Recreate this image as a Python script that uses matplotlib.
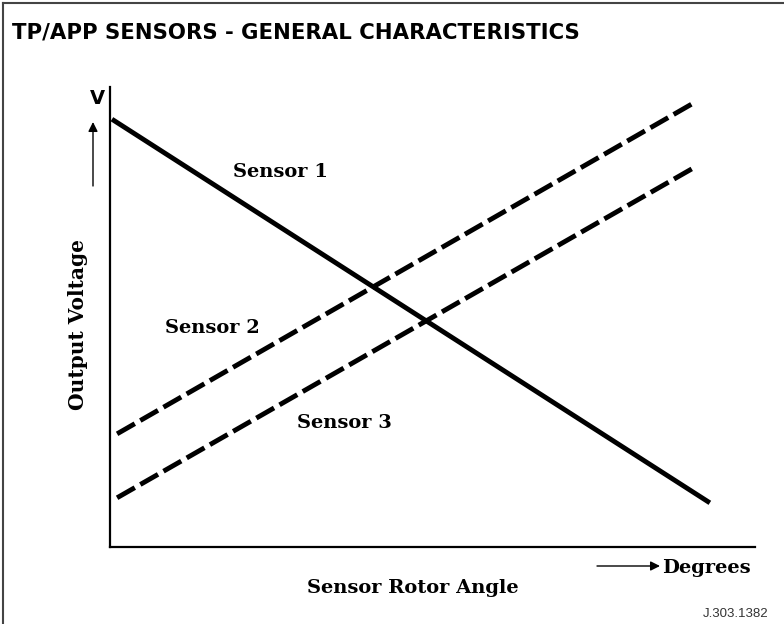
import matplotlib.pyplot as plt
from matplotlib.lines import Line2D

W, H = 784, 624

# rotor angle (0-100) vs output voltage (0-10), arbitrary units
sensor1_angle = [0.3, 93.0]
sensor1_volt = [9.30, 0.96]
sensor2_angle = [1.1, 90.7]
sensor2_volt = [2.46, 9.67]
sensor3_angle = [1.1, 90.7]
sensor3_volt = [1.07, 8.26]

labels = ['Sensor 1', 'Sensor 2', 'Sensor 3']
label_pos = [(233, 177), (165, 333), (297, 428)]  # left, baseline in px from top

serif = ['DejaVu Serif']
title_font = ['Liberation Sans Narrow', 'DejaVu Sans']


def fx(x):
    return x / W


def fy(y):
    return 1 - y / H


fig = plt.figure(figsize=(W / 100, H / 100), dpi=100)
ax = fig.add_axes([fx(110), fy(547), (755 - 110) / W, (547 - 87) / H])

dash = (4.2, 1.3)
ax.plot(sensor1_angle, sensor1_volt, color='black', lw=3.5, solid_capstyle='butt')
ax.plot(sensor2_angle, sensor2_volt, color='black', lw=3.5, dashes=dash, dash_capstyle='butt')
ax.plot(sensor3_angle, sensor3_volt, color='black', lw=3.5, dashes=dash, dash_capstyle='butt')

ax.set_xlim(0, 100)
ax.set_ylim(0, 10)
ax.set_xticks([])
ax.set_yticks([])
for s in ['top', 'right']:
    ax.spines[s].set_visible(False)
for s in ['left', 'bottom']:
    ax.spines[s].set_linewidth(1.6)

for lab, (lx, ly) in zip(labels, label_pos):
    fig.text(fx(lx), fy(ly), lab, family=serif, weight='bold', fontsize=14,
             ha='left', va='baseline')

fig.text(fx(78), fy(325), 'Output Voltage', family=serif, weight='bold', fontsize=14.5,
         rotation=90, ha='center', va='center')
fig.text(fx(307), fy(593), 'Sensor Rotor Angle', family=serif, weight='bold', fontsize=14,
         ha='left', va='baseline')
fig.text(fx(662), fy(573), 'Degrees', family=serif, weight='bold', fontsize=14,
         ha='left', va='baseline')
fig.text(fx(97), fy(98), 'V', family=['DejaVu Sans'], weight='bold', fontsize=14,
         ha='center', va='center')

# direction arrows
fig.add_artist(plt.Annotation('', xy=(fx(660), fy(566)), xytext=(fx(597), fy(566)),
                              xycoords='figure fraction', textcoords='figure fraction',
                              arrowprops=dict(arrowstyle='-|>', lw=1.0, color='black',
                                              mutation_scale=14, shrinkA=0, shrinkB=0)))
fig.add_artist(plt.Annotation('', xy=(fx(93), fy(122)), xytext=(fx(93), fy(186)),
                              xycoords='figure fraction', textcoords='figure fraction',
                              arrowprops=dict(arrowstyle='-|>', lw=1.0, color='black',
                                              mutation_scale=14, shrinkA=0, shrinkB=0)))

fig.text(fx(12), fy(38), 'TP/APP SENSORS - GENERAL CHARACTERISTICS', family=title_font,
         weight='bold', fontsize=15.3, ha='left', va='baseline')
fig.text(fx(768), fy(617), 'J.303.1382', family=['Liberation Sans'], fontsize=9.5,
         color='#333333', ha='right', va='baseline')

# page frame, left and top edges
fig.add_artist(Line2D([fx(3), fx(3)], [0, fy(3)], color='#444444', lw=1.5))
fig.add_artist(Line2D([fx(3), 1], [fy(3), fy(3)], color='#444444', lw=1.5))

fig.savefig('out.png', dpi=100)
